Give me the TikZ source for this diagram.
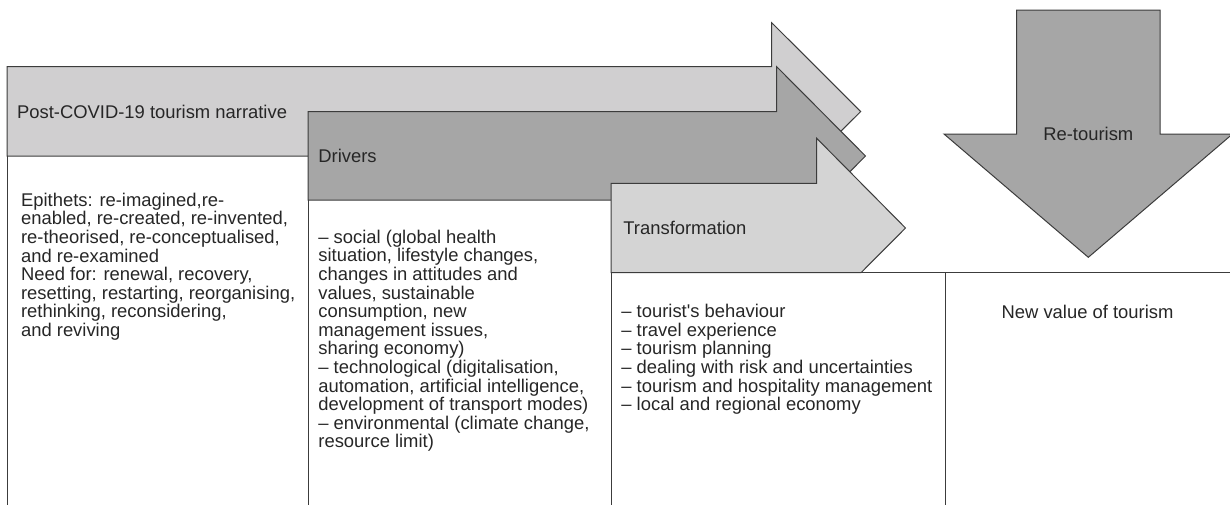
\documentclass[tikz,border=0pt]{standalone}
\usepackage{fontspec}
\setmainfont{Liberation Sans}
\definecolor{narrgray}{HTML}{D0CFD0}
\definecolor{drvgray}{HTML}{A6A6A6}
\definecolor{trfgray}{HTML}{D4D4D4}
\definecolor{edgegray}{HTML}{3C3C3C}
\tikzset{
	arr/.style={draw=edgegray,line width=0.5pt,line join=miter},
	rule/.style={draw=edgegray,line width=0.5pt},
	lbl/.style={inner sep=0pt,text=black!85,font=\fontsize{9.2}{9.3}\selectfont},
	coltext/.style={lbl,align=left,anchor=north west}
}
\begin{document}
\begin{tikzpicture}[x=0.5pt,y=-0.5pt,line join = round]
	\useasboundingbox (0,0) rectangle (1230,505);
	% ba mui ten ngang
	\draw[arr,fill=narrgray](7,66.7)--(771.7,66.7)--(771.7,22.7)--(860.7,111.5)--(771.7,200.3)--(771.7,156)--(7,156)--cycle;
	\draw[arr,fill=drvgray](308,111.7)--(776.7,111.7)--(776.7,66.7)--(865.5,156)--(776.7,245)--(776.7,200)--(308,200)--cycle;
	\draw[arr,fill=trfgray](611,183.3)--(816.7,183.3)--(816.7,138.3)--(905.5,228)--(861,272.7)--(611,272.7)--cycle;
	% mui ten xuong
	\draw[arr,fill=drvgray](1016.7,10)--(1160,10)--(1160,134)--(1232.5,134)--(1088.3,257.3)--(944,134)--(1016.7,134)--cycle;
	% cac cot
	\draw[rule](7,156)--(7,505) (308,200)--(308,505) (611,272.7)--(611,505) (945,272.7)--(945,505) (861,272.7)--(1232,272.7);
	\node[lbl,anchor=base west](narr) at (16.7,118) {Post-COVID-19 tourism narrative};
	\node[lbl,anchor=base west](drv) at (318,162.5) {Drivers};
	\node[lbl,anchor=base west](trf) at (623,234.7) {Transformation};
	\node[lbl,anchor=base](ret) at (1088.3,140) {Re-tourism};
	\node[coltext](epith) at (20.7,192.5) {Epithets: re-imagined,re-\\enabled, re-created, re-invented,\\re-theorised, re-conceptualised,\\and re-examined\\Need for: renewal, recovery,\\resetting, restarting, reorganising,\\rethinking, reconsidering,\\and reviving};
	\node[coltext](drvlist) at (318,229.5) {-- social (global health\\situation, lifestyle changes,\\changes in attitudes and\\values, sustainable\\consumption, new\\management issues,\\sharing economy)\\-- technological (digitalisation,\\automation, artificial intelligence,\\development of transport modes)\\-- environmental (climate change,\\resource limit)};
	\node[coltext](trflist) at (621,304) {-- tourist\textquotesingle s behaviour\\-- travel experience\\-- tourism planning\\-- dealing with risk and uncertainties\\-- tourism and hospitality management\\-- local and regional economy};
	\node[lbl,anchor=base](newval) at (1087.5,318) {New value of tourism};
\end{tikzpicture}
\end{document}
